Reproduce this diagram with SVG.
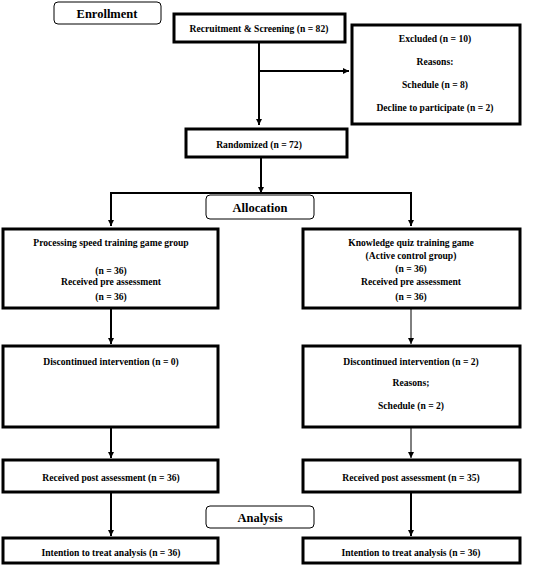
<svg xmlns="http://www.w3.org/2000/svg" width="545" height="567" viewBox="0 0 545 567">
<style>
text{font-family:"Liberation Serif","Times New Roman",serif;font-weight:bold;fill:#000;text-anchor:middle;font-size:9.6px}
.hd{font-size:12.5px}
.box{fill:#fff;stroke:#000;stroke-width:3}
.rbox{fill:#fff;stroke:#000;stroke-width:1}
.ln{fill:none;stroke:#000;stroke-width:2}
.ln1{fill:none;stroke:#000;stroke-width:1}
</style>
<defs>
<marker id="ah" viewBox="0 0 10 10" refX="10" refY="5" markerWidth="6" markerHeight="6" markerUnits="userSpaceOnUse" orient="auto">
<path d="M0,0 L10,5 L0,10 Z" fill="#000"/>
</marker>
</defs>
<g id="connectors">
<path class="ln" d="M259,42 V125" marker-end="url(#ah)"/>
<path class="ln" d="M259,71 H349" marker-end="url(#ah)"/>
<path class="ln" d="M261,157 V193" marker-end="url(#ah)"/>
<path class="ln" d="M111,225 V193 H411 V225"/>
<path class="ln" d="M111,193 V226" marker-end="url(#ah)"/>
<path class="ln" d="M411,193 V226" marker-end="url(#ah)"/>
<path class="ln" d="M111,308 V344" marker-end="url(#ah)"/>
<path class="ln1" d="M411,308 V344" marker-end="url(#ah)"/>
<path class="ln" d="M111,427 V458" marker-end="url(#ah)"/>
<path class="ln1" d="M411,427 V458" marker-end="url(#ah)"/>
<path class="ln" d="M111,492 V536" marker-end="url(#ah)"/>
<path class="ln" d="M411,492 V536" marker-end="url(#ah)"/>
</g>
<g id="enrollment">
<rect class="rbox" x="54" y="2" width="107" height="22" rx="4"/>
<text class="hd" x="107" y="18">Enrollment</text>
</g>
<g id="recruitment">
<rect class="box" x="174" y="14" width="171" height="28"/>
<text x="259" y="32">Recruitment &amp; Screening (n = 82)</text>
</g>
<g id="excluded">
<rect class="box" x="352" y="25" width="168" height="99"/>
<text x="435" y="42">Excluded (n = 10)</text>
<text x="435" y="65">Reasons:</text>
<text x="435" y="88">Schedule (n = 8)</text>
<text x="435" y="111">Decline to participate (n = 2)</text>
</g>
<g id="randomized">
<rect class="box" x="186" y="129" width="161" height="28"/>
<text x="259" y="148">Randomized (n = 72)</text>
</g>
<g id="allocation">
<rect class="rbox" x="206" y="195" width="108" height="24" rx="4"/>
<text class="hd" x="260" y="212">Allocation</text>
</g>
<g id="processing">
<rect class="box" x="3" y="229" width="215" height="79"/>
<text x="111" y="246">Processing speed training game group</text>
<text x="111" y="274">(n = 36)</text>
<text x="111" y="285">Received pre assessment</text>
<text x="111" y="300">(n = 36)</text>
</g>
<g id="knowledge">
<rect class="box" x="303" y="229" width="217" height="79"/>
<text x="411" y="246">Knowledge quiz training game</text>
<text x="411" y="259">(Active control group)</text>
<text x="411" y="272">(n = 36)</text>
<text x="411" y="285">Received pre assessment</text>
<text x="411" y="300">(n = 36)</text>
</g>
<g id="disc-left">
<rect class="box" x="3" y="346" width="215" height="81"/>
<text x="111" y="365">Discontinued intervention (n = 0)</text>
</g>
<g id="disc-right">
<rect class="box" x="303" y="346" width="217" height="81"/>
<text x="411" y="365">Discontinued intervention (n = 2)</text>
<text x="411" y="386">Reasons;</text>
<text x="411" y="409">Schedule (n = 2)</text>
</g>
<g id="post-left">
<rect class="box" x="3" y="460" width="215" height="32"/>
<text x="111" y="481">Received post assessment (n = 36)</text>
</g>
<g id="post-right">
<rect class="box" x="303" y="460" width="217" height="32"/>
<text x="411" y="481">Received post assessment (n = 35)</text>
</g>
<g id="analysis">
<rect class="rbox" x="206" y="506" width="108" height="22" rx="4"/>
<text class="hd" x="260" y="522">Analysis</text>
</g>
<g id="itt-left">
<rect class="box" x="3" y="538" width="215" height="25"/>
<text x="111" y="556">Intention to treat analysis (n = 36)</text>
</g>
<g id="itt-right">
<rect class="box" x="303" y="538" width="217" height="25"/>
<text x="411" y="556">Intention to treat analysis (n = 36)</text>
</g>
</svg>
